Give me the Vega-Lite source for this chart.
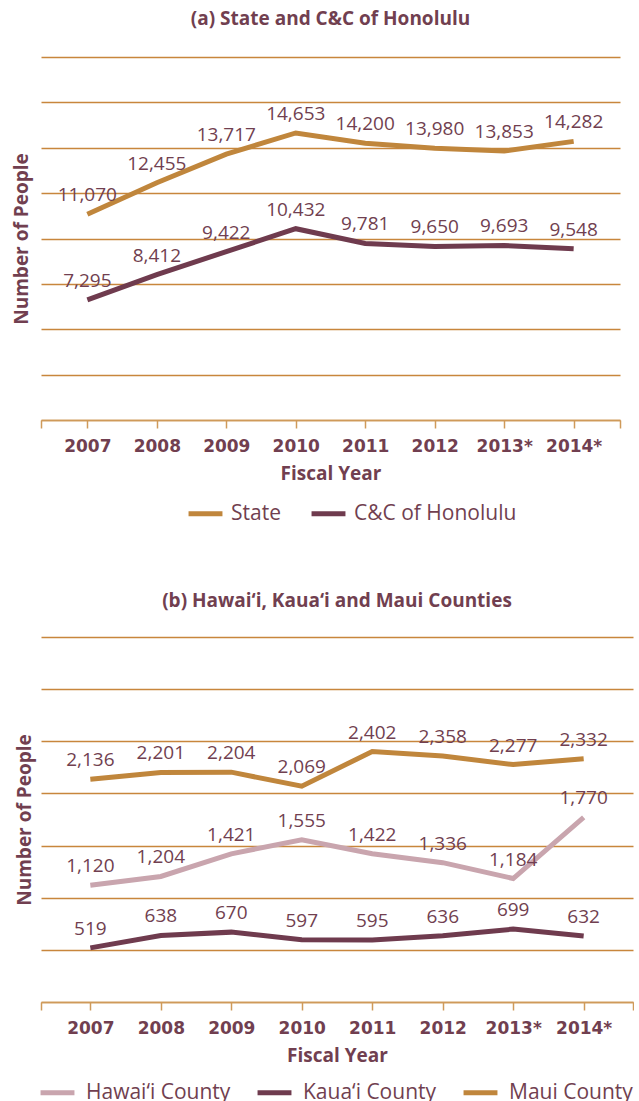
{
  "$schema": "https://vega.github.io/schema/vega-lite/v6.json",
  "padding": {"left": 12, "top": 10, "right": 0, "bottom": 0},
  "background": "white",
  "datasets": {
    "rows": [
      {"panel": "a", "series": "State", "year": 2007, "value": 11070},
      {"panel": "a", "series": "State", "year": 2008, "value": 12455},
      {"panel": "a", "series": "State", "year": 2009, "value": 13717},
      {"panel": "a", "series": "State", "year": 2010, "value": 14653},
      {"panel": "a", "series": "State", "year": 2011, "value": 14200},
      {"panel": "a", "series": "State", "year": 2012, "value": 13980},
      {"panel": "a", "series": "State", "year": 2013, "value": 13853},
      {"panel": "a", "series": "State", "year": 2014, "value": 14282},
      {"panel": "a", "series": "C&C of Honolulu", "year": 2007, "value": 7295},
      {"panel": "a", "series": "C&C of Honolulu", "year": 2008, "value": 8412},
      {"panel": "a", "series": "C&C of Honolulu", "year": 2009, "value": 9422},
      {"panel": "a", "series": "C&C of Honolulu", "year": 2010, "value": 10432},
      {"panel": "a", "series": "C&C of Honolulu", "year": 2011, "value": 9781},
      {"panel": "a", "series": "C&C of Honolulu", "year": 2012, "value": 9650},
      {"panel": "a", "series": "C&C of Honolulu", "year": 2013, "value": 9693},
      {"panel": "a", "series": "C&C of Honolulu", "year": 2014, "value": 9548},
      {"panel": "b", "series": "Hawai‘i County", "year": 2007, "value": 1120},
      {"panel": "b", "series": "Hawai‘i County", "year": 2008, "value": 1204},
      {"panel": "b", "series": "Hawai‘i County", "year": 2009, "value": 1421},
      {"panel": "b", "series": "Hawai‘i County", "year": 2010, "value": 1555},
      {"panel": "b", "series": "Hawai‘i County", "year": 2011, "value": 1422},
      {"panel": "b", "series": "Hawai‘i County", "year": 2012, "value": 1336},
      {"panel": "b", "series": "Hawai‘i County", "year": 2013, "value": 1184},
      {"panel": "b", "series": "Hawai‘i County", "year": 2014, "value": 1770},
      {"panel": "b", "series": "Kaua‘i County", "year": 2007, "value": 519},
      {"panel": "b", "series": "Kaua‘i County", "year": 2008, "value": 638},
      {"panel": "b", "series": "Kaua‘i County", "year": 2009, "value": 670},
      {"panel": "b", "series": "Kaua‘i County", "year": 2010, "value": 597},
      {"panel": "b", "series": "Kaua‘i County", "year": 2011, "value": 595},
      {"panel": "b", "series": "Kaua‘i County", "year": 2012, "value": 636},
      {"panel": "b", "series": "Kaua‘i County", "year": 2013, "value": 699},
      {"panel": "b", "series": "Kaua‘i County", "year": 2014, "value": 632},
      {"panel": "b", "series": "Maui County", "year": 2007, "value": 2136},
      {"panel": "b", "series": "Maui County", "year": 2008, "value": 2201},
      {"panel": "b", "series": "Maui County", "year": 2009, "value": 2204},
      {"panel": "b", "series": "Maui County", "year": 2010, "value": 2069},
      {"panel": "b", "series": "Maui County", "year": 2011, "value": 2402},
      {"panel": "b", "series": "Maui County", "year": 2012, "value": 2358},
      {"panel": "b", "series": "Maui County", "year": 2013, "value": 2277},
      {"panel": "b", "series": "Maui County", "year": 2014, "value": 2332}
    ]
  },
  "data": {"name": "rows"},
  "resolve": {"scale": {"color": "independent"}},
  "spacing": 68,
  "vconcat": [
    {
      "width": 579,
      "height": 363,
      "title": {"text": "(a) State and C&C of Honolulu", "offset": 28},
      "transform": [{"filter": "datum.panel == 'a'"}],
      "encoding": {
        "x": {
          "field": "year", "type": "quantitative",
          "scale": {"domain": [2006.333, 2014.667], "nice": false, "zero": false},
          "axis": {
            "title": "Fiscal Year",
            "values": [2006.333, 2007, 2008, 2009, 2010, 2011, 2012, 2013, 2014, 2014.667],
            "labelExpr": "datum.value < 2006.9 || datum.value > 2014.1 ? '' : (datum.value > 2012.5 ? datum.value + '*' : '' + datum.value)"
          }
        },
        "y": {
          "field": "value", "type": "quantitative",
          "scale": {"domain": [2000, 18000], "nice": false, "zero": false},
          "axis": {"title": "Number of People", "titlePadding": 10, "values": [2000, 4000, 6000, 8000, 10000, 12000, 14000, 16000, 18000]}
        }
      },
      "layer": [
        {
          "mark": {"type": "line", "strokeWidth": 5},
          "encoding": {
            "color": {
              "field": "series", "type": "nominal",
              "scale": {"domain": ["State", "C&C of Honolulu"], "range": ["#c0863c", "#6f3b4e"]},
              "legend": {"orient": "none", "legendX": 145, "legendY": 437, "columnPadding": 20, "labelOffset": 6}
            }
          }
        },
        {
          "mark": {"type": "text", "dy": -19, "baseline": "middle", "font": "Open Sans", "fontSize": 19, "color": "#713f50"},
          "encoding": {"text": {"field": "value", "type": "quantitative", "format": ","}}
        }
      ]
    },
    {
      "width": 592,
      "height": 365,
      "title": {"text": "(b) Hawai‘i, Kaua‘i and Maui Counties", "offset": 26},
      "transform": [{"filter": "datum.panel == 'b'"}],
      "encoding": {
        "x": {
          "field": "year", "type": "quantitative",
          "scale": {"domain": [2006.3, 2014.7], "nice": false, "zero": false},
          "axis": {
            "title": "Fiscal Year",
            "values": [2006.3, 2007, 2008, 2009, 2010, 2011, 2012, 2013, 2014, 2014.7],
            "labelExpr": "datum.value < 2006.9 || datum.value > 2014.1 ? '' : (datum.value > 2012.5 ? datum.value + '*' : '' + datum.value)"
          }
        },
        "y": {
          "field": "value", "type": "quantitative",
          "scale": {"domain": [0, 3500], "nice": false, "zero": false},
          "axis": {"title": "Number of People", "titlePadding": 7, "values": [0, 500, 1000, 1500, 2000, 2500, 3000, 3500]}
        }
      },
      "layer": [
        {
          "mark": {"type": "line", "strokeWidth": 5},
          "encoding": {
            "color": {
              "field": "series", "type": "nominal",
              "scale": {"domain": ["Hawai‘i County", "Kaua‘i County", "Maui County"], "range": ["#c9a5ae", "#6f3b4e", "#c0863c"]},
              "legend": {"orient": "none", "legendX": -3, "legendY": 436, "columnPadding": 16, "labelOffset": 9}
            }
          }
        },
        {
          "mark": {"type": "text", "dy": -19, "baseline": "middle", "font": "Open Sans", "fontSize": 19, "color": "#713f50"},
          "encoding": {"text": {"field": "value", "type": "quantitative", "format": ","}}
        }
      ]
    }
  ],
  "config": {
    "view": {"stroke": null},
    "title": {"font": "Open Sans", "fontSize": 19, "fontWeight": "bold", "color": "#713f50", "anchor": "middle"},
    "axis": {
      "titleFont": "Open Sans", "titleFontSize": 19, "titleFontWeight": "bold", "titleColor": "#713f50",
      "labelFont": "DejaVu Sans", "labelFontSize": 17, "labelFontWeight": "bold", "labelColor": "#713f50",
      "gridColor": "#c8863c", "gridWidth": 1.5, "gridOpacity": 1,
      "domainColor": "#cf9a5a", "domainWidth": 1.5, "tickColor": "#cf9a5a", "tickWidth": 1.5, "tickSize": 8
    },
    "axisX": {"grid": false, "labelPadding": 10, "labelOverlap": false, "labelFlush": false, "titlePadding": 10},
    "axisY": {"grid": true, "labels": false, "ticks": false, "domain": false},
    "legend": {
      "direction": "horizontal", "title": null,
      "symbolType": "stroke", "symbolStrokeWidth": 5, "symbolSize": 1150,
      "labelFont": "Open Sans", "labelFontSize": 21, "labelColor": "#713f50",
      "labelLimit": 300, "padding": 0
    }
  }
}
